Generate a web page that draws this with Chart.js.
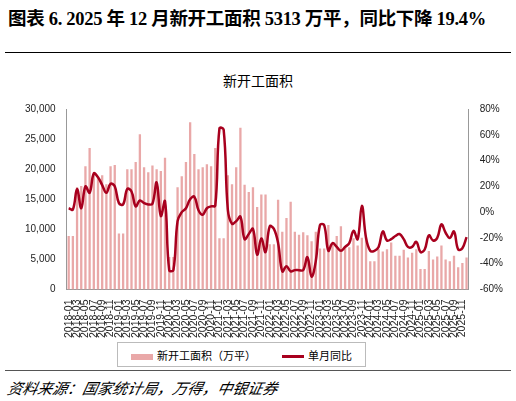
<!DOCTYPE html>
<html><head><meta charset="utf-8">
<script src="https://cdn.jsdelivr.net/npm/chart.js@4"></script>
<style>
body{margin:0;width:516px;height:401px;background:#fff;position:relative;overflow:hidden;font-family:"Liberation Sans","Noto Sans CJK SC",sans-serif}
#t{position:absolute;left:8px;top:4px;font:bold 18.5px "Liberation Serif","Noto Sans CJK SC";letter-spacing:-0.3px;white-space:nowrap}
#l1{position:absolute;left:5px;top:52px;width:506px;height:1px;background:#000}
#ct{position:absolute;left:0;width:516px;top:70px;text-align:center;font:14px "Noto Sans CJK SC"}
#cw{position:absolute;left:0;top:92px;width:516px;height:248px}
#lg{position:absolute;left:117px;top:342px;width:249px;height:25px;border:1px solid #bbb;box-sizing:border-box;font:11px "Noto Sans CJK SC";display:flex;align-items:center;justify-content:center;gap:26px}
#l2{position:absolute;left:5px;top:370px;width:506px;height:1px;background:#555}
#src{position:absolute;left:8px;top:377px;font:italic 15px "Noto Sans CJK SC";transform:skewX(-12deg)}
</style></head><body>
<div id="t">图表 6. 2025 年 12 月新开工面积 5313 万平，同比下降 19.4%</div>
<div id="l1"></div>
<div id="ct">新开工面积</div>
<div id="cw"><canvas id="c"></canvas></div>
<div id="lg"><span><span style="display:inline-block;width:22px;height:6px;background:#e9a8a8;vertical-align:middle;margin-right:4px"></span>新开工面积（万平）</span><span><span style="display:inline-block;width:22px;height:3px;background:#a8001e;vertical-align:middle;margin-right:4px"></span>单月同比</span></div>
<div id="l2"></div>
<div id="src">资料来源：国家统计局，万得，中银证券</div>
<script>
const years=[2018,2019,2020,2021,2022,2023,2024,2025];
const months=[];years.forEach(y=>{for(let m=1;m<=12;m++)months.push(y+'-'+String(m).padStart(2,'0'));});
const area=[8900,8900,17000,17200,20500,23500,19200,18500,19000,17500,20500,20700,
9300,9300,20000,20000,21200,25800,20300,19500,20600,20000,19700,21900,
5400,5400,17000,18800,21200,27800,22500,20000,20300,20800,20500,23500,
8500,8500,19000,17500,20300,26900,17400,16200,17000,13700,15800,15800,
7500,7500,14900,9600,11900,14600,9600,9100,9500,9000,8000,9600,
6800,6800,10700,7700,8900,10500,7000,7000,8500,7300,8600,8700,
4700,4700,6700,6300,6700,7800,5600,5600,6600,5300,6100,6700,
3400,3400,6400,5000,5500,7300,5000,4700,5600,3700,4400,5313];
const yoy=[3,2,18,3,20,15,30,27,21,15,22,20,
7,6,18,16,4.5,9,7,6,6.5,23,-3,8.5,
-45,-45,-7,0,3,10,12,1.5,-2,3,4.5,5,
65,64,2,-9,-7,-3.5,-21,-17,-13,-33,-20.5,-31,
-11,-13,-24,-46,-42,-46,-45,-45,-45,-35,-50,-38,
-10,-10,-30,-24,-27,-30,-27,-24,-14.5,-21,5,-20,
-30,-30,-27,-15,-22,-21,-18.5,-17,-21,-27,-27,-23,
-31,-29,-18,-22,-20,-9.5,-16,-20,-15,-29,-28,-19.4];
new Chart(document.getElementById('c'),{
 data:{labels:months,datasets:[
  {type:'line',label:'单月同比',data:yoy,yAxisID:'y1',borderColor:'#a8001e',borderWidth:2.5,pointRadius:0,tension:0.4,order:0},
  {type:'bar',label:'新开工面积（万平）',data:area,yAxisID:'y',backgroundColor:'#e9a8a8',barPercentage:0.55,categoryPercentage:1,order:1}]},
 options:{responsive:true,maintainAspectRatio:false,animation:false,
  layout:{padding:{left:22,right:10,top:17,bottom:0}},
  plugins:{legend:{display:false},tooltip:{enabled:false}},
  scales:{
   x:{grid:{display:false,drawTicks:true},border:{color:'#999'},ticks:{autoSkip:false,maxRotation:90,minRotation:90,font:{size:10.5,family:'Liberation Sans'},color:'#222',padding:2,callback:(v,i)=>i%2===0?months[i]:''}},
   y:{min:0,max:30000,ticks:{stepSize:5000,font:{size:10,family:'Liberation Sans'},color:'#222',callback:v=>v.toLocaleString('en-US')},grid:{display:false},border:{color:'#999'}},
   y1:{position:'right',min:-60,max:80,ticks:{stepSize:20,font:{size:10,family:'Liberation Sans'},color:'#222',callback:v=>v+'%'},grid:{display:false,drawTicks:true},border:{color:'#999'}}
  }}
});
</script></body></html>
